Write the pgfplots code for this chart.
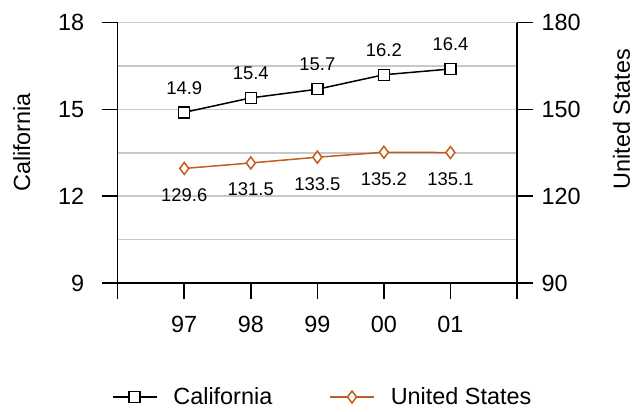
\documentclass[border=0pt]{standalone}
\usepackage{pgfplots}
\pgfplotsset{compat=1.18}
\usepackage{fontspec}
\setmainfont{Liberation Sans}
\definecolor{usorange}{RGB}{196,92,28}
\definecolor{gridgray}{RGB}{200,200,200}
\begin{document}
\begin{tikzpicture}
\pgfplotsset{
  common/.style={
    scale only axis, width=399.3bp, height=260.3bp,
    at={(0,0)}, anchor=south west,
    xmin=0, xmax=6,
    /pgf/number format/assume math mode=true,
    tick label style={font=\fontsize{23.5}{28}\selectfont},
    tick style={line width=1.5bp, black},
    major tick length=16bp,
    nodes near coords style={font=\fontsize{18.5}{22}\selectfont, black},
  },
  lines/.style={
    axis line style={line width=1.5bp, black, -},
    tick align=outside,
  }
}
% grid only
\begin{axis}[
  scale only axis, width=399.3bp, height=260.3bp,
  at={(0,0)}, anchor=south west,
  xmin=0, xmax=6, ymin=9, ymax=18,
  axis line style={draw=none},
  xtick=\empty,
  ytick={10.5,12,13.5,15,16.5,18},
  yticklabels={},
  major tick length=0pt,
  ymajorgrids=true,
  major grid style={gridgray, line width=1.5bp},
]
\end{axis}
\begin{axis}[common,
  axis x line=bottom, axis y line=left, lines,
  ymin=9, ymax=18,
  ytick={9,12,15,18},
  xtick={0,1,2,3,4,5,6},
  xticklabels={,97,98,99,00,01,},
  xticklabel style={yshift=-14bp},
  yticklabel style={xshift=-14bp},
  ylabel={California},
  every axis y label/.style={at={(axis description cs:-0.24,0.54)}, anchor=center, rotate=90, font=\fontsize{23.5}{28}\selectfont},
  legend style={draw=none, fill=none, at={(axis description cs:-0.015,-0.438)}, anchor=west,
    font=\fontsize{23.5}{28}\selectfont, inner sep=0pt,
    /tikz/every odd column/.append style={column sep=14bp},
    /tikz/every even column/.append style={column sep=55bp}},
  legend columns=2,
  legend image code/.code={\draw[#1, mark repeat=2, mark phase=2] plot coordinates {(0bp,0bp) (22bp,0bp) (44bp,0bp)};},
]
\addplot[black, line width=1.5bp, mark=square*, mark size=5.5bp,
  mark options={fill=white, line width=1.5bp, solid},
  nodes near coords, nodes near coords align={above}, every node near coord/.append style={yshift=14bp}]
  coordinates {(1,14.9) (2,15.4) (3,15.7) (4,16.2) (5,16.4)};
\addlegendentry{California}
\addlegendimage{usorange, line width=1.5bp, mark=diamond*, mark size=6bp, mark options={fill=white, line width=1.5bp, solid}}
\addlegendentry{United States}
\end{axis}
\begin{axis}[common,
  axis x line=none, axis y line=right, lines,
  ymin=90, ymax=180,
  ytick={90,120,150,180},
  yticklabel style={xshift=5bp},
  ylabel={United States},
  every axis y label/.style={at={(axis description cs:1.262,0.63)}, anchor=center, rotate=90, font=\fontsize{23.5}{28}\selectfont},
]
\addplot[usorange, line width=1.5bp, mark=diamond*, mark size=6bp,
  mark options={fill=white, line width=1.5bp, solid},
  nodes near coords, nodes near coords align={below}, every node near coord/.append style={yshift=-16bp},
  point meta=explicit symbolic]
  coordinates {(1,129.6) [129.6] (2,131.5) [131.5] (3,133.5) [133.5] (4,135.2) [135.2] (5,135.1) [135.1]};
\end{axis}
\pgfresetboundingbox
\path[use as bounding box] (-117.7bp,-129bp) rectangle (519.3bp,283bp);
\end{tikzpicture}
\end{document}
